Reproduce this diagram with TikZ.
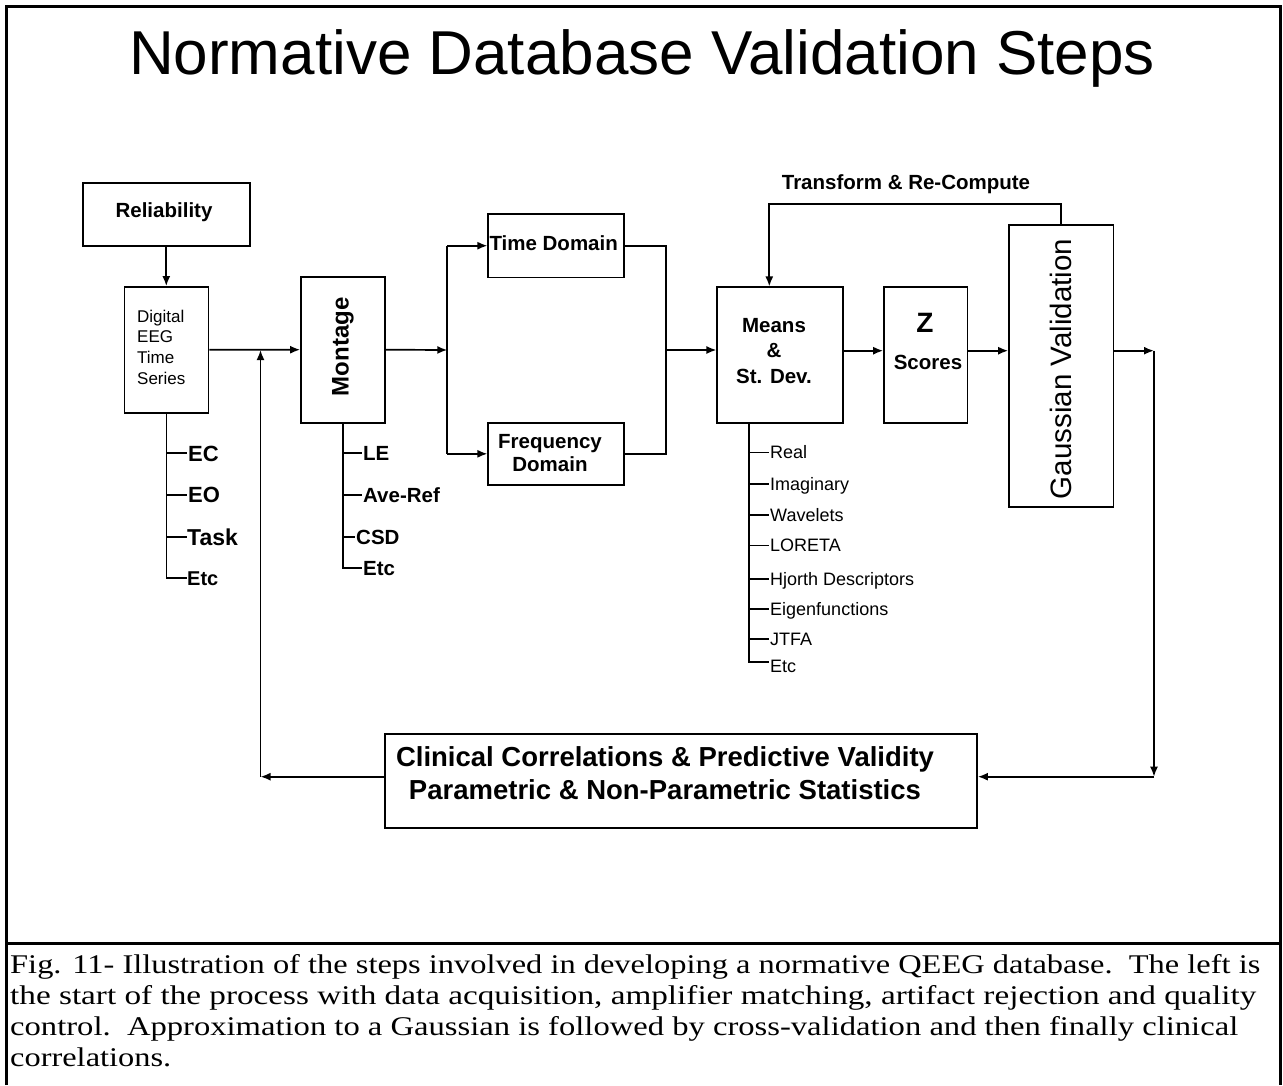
\documentclass[tikz,border=0pt]{standalone}
\usepackage{fontspec}
\setmainfont{Liberation Sans}
\newfontfamily\capfont[FakeStretch=1.2]{Liberation Serif}
\usetikzlibrary{arrows.meta}

\begin{document}
\begin{tikzpicture}[x=1pt,y=-1pt,
  box/.style={draw, line width=1.7pt, inner sep=0pt},
  wire/.style={line width=1.7pt},
  flow/.style={line width=1.7pt, -{Latex[length=10pt,width=8pt]}},
  bold/.style={inner sep=0pt, font=\bfseries\fontsize{20.5}{24}\selectfont},
  plain/.style={inner sep=0pt, font=\fontsize{17}{20.7}\selectfont},
  tickA/.style={anchor=west, inner ysep=0pt, inner xsep=1pt, text height=15.8pt, text depth=0pt,
                font=\bfseries\fontsize{22}{26}\selectfont},
  tickB/.style={anchor=west, inner ysep=0pt, inner xsep=1pt, text height=14.7pt, text depth=0pt,
                font=\bfseries\fontsize{20.5}{24}\selectfont},
  tickC/.style={anchor=west, inner ysep=0pt, inner xsep=1pt, text height=12.9pt, text depth=0pt,
                font=\fontsize{18}{21}\selectfont},
  caption/.style={anchor=base west, inner sep=0pt, font=\capfont\fontsize{27}{31}\selectfont}
]
\useasboundingbox (0,0) rectangle (1283,1085);

% page frame and caption separator
\draw[line width=3pt] (6,1085) -- (6,6) -- (1280,6) -- (1280,1085);
\draw[line width=3pt] (6,943) -- (1280,943);

% title
\node[anchor=base, inner sep=0pt, font=\fontsize{62}{72}\selectfont] (title) at (642,74)
  {Normative Database Validation Steps};

% boxes
\node[box, minimum width=167.3pt, minimum height=63pt] (rel) at (166.3,214.5) {};
\node[bold] (reltxt) at (164,212) {Reliability};

\node[box, minimum width=84pt, minimum height=125.7pt] (dig) at (166.4,349.8) {};
\node[plain, align=left, anchor=west] (digtxt) at (137,347) {Digital\\EEG\\Time\\Series};

\node[box, minimum width=84pt, minimum height=146pt] (mon) at (343,349.7) {};
\node[bold, font=\bfseries\fontsize{24}{28}\selectfont, rotate=90] (montxt) at (343,346.7) {Montage};

\node[box, minimum width=136pt, minimum height=63.3pt] (time) at (556.3,245.7) {};
\node[bold] (timetxt) at (553.7,243) {Time Domain};

\node[box, minimum width=136pt, minimum height=62.3pt] (freq) at (556.3,453.8) {};
\node[bold, align=center, font=\bfseries\fontsize{20.5}{23.3}\selectfont] (freqtxt) at (550,453)
  {Frequency\\Domain};

\node[box, minimum width=125.4pt, minimum height=135.4pt] (means) at (780,355) {};
\node[bold, align=center, font=\bfseries\fontsize{20.5}{25.5}\selectfont] (meanstxt) at (774,351)
  {Means\\\&\\St. Dev.};

\node[box, minimum width=83.3pt, minimum height=135.4pt] (z) at (925.7,355) {};
\node[bold, font=\bfseries\fontsize{28}{32}\selectfont] (ztxt) at (925,322.5) {Z};
\node[bold] (scorestxt) at (928,362.7) {Scores};

\node[box, minimum width=104.3pt, minimum height=281.7pt] (gauss) at (1061.2,365.8) {};
\node[inner sep=0pt, rotate=90, font=\fontsize{29.5}{34}\selectfont] (gausstxt) at (1061,369)
  {Gaussian Validation};

\node[bold] (transtxt) at (906,184) {Transform \& Re-Compute};

\node[box, minimum width=592pt, minimum height=94pt] (clin) at (681,781) {};
\node[inner sep=0pt, align=center, font=\bfseries\fontsize{27.5}{33}\selectfont] (clintxt) at (665,773.5)
  {Clinical Correlations \& Predictive Validity\\Parametric \& Non-Parametric Statistics};

% routing points
\coordinate (split) at (447.3,350);
\coordinate (merge) at (665.7,350);
\coordinate (fbL) at (260.5,350);
\coordinate (botL) at (260.5,776.7);
\coordinate (outR) at (1154,350.7);
\coordinate (botR) at (1154,776.7);
\coordinate (loopR) at (1061,204);
\coordinate (loopL) at (769.3,204);

% main flow
\draw[flow] (rel.south) -- (rel.south |- dig.north);
\draw[flow] (dig.east) -- (mon.west);
\draw[flow] (mon.east) -- (split);
\draw[wire] (split |- time.west) -- (split |- freq.west);
\draw[flow] (split |- time.west) -- (time.west);
\draw[flow] (split |- freq.west) -- (freq.west);
\draw[wire] (time.east) -| (merge) |- (freq.east);
\draw[flow] (merge) -- (means.west |- merge);
\draw[flow] (means.east |- outR) -- (z.west |- outR);
\draw[flow] (z.east |- outR) -- (gauss.west |- outR);
\draw[flow] (gauss.east |- outR) -- (outR);
\draw[flow] (outR) -- (botR);
\draw[flow] (botR) -- (clin.east |- botR);
\draw[flow] (clin.west |- botL) -- (botL);
\draw[flow] (botL) -- (fbL);
\draw[flow] (gauss.north -| loopR) -- (loopR) -- (loopL) -- (means.north -| loopL);

% recording conditions
\node[tickA] (ec) at (187,453.3) {EC};
\node[tickA] (eo) at (187,495) {EO};
\node[tickA, inner xsep=7pt, font=\bfseries\fontsize{23}{27}\selectfont] (task) at (180,537.3) {Task};
\node[tickA, inner xsep=11pt, text height=14.3pt, font=\bfseries\fontsize{20}{24}\selectfont] (etcA) at (176,578.3) {Etc};
\draw[wire] (dig.south) -- (dig.south |- etcA.west) -- ++(20.5,0);
\draw[wire] (dig.south |- ec.west) -- (ec.west);
\draw[wire] (dig.south |- eo.west) -- (eo.west);
\draw[wire] (dig.south |- task.west) -- ++(20.5,0);

% montage references
\node[tickB] (le) at (362,453) {LE};
\node[tickB] (averef) at (362,495) {Ave-Ref};
\node[tickB] (csd) at (355,536.7) {CSD};
\node[tickB] (etcB) at (362,568) {Etc};
\draw[wire] (mon.south) -- (mon.south |- etcB.west) -- (etcB.west);
\draw[wire] (mon.south |- le.west) -- (le.west);
\draw[wire] (mon.south |- averef.west) -- (averef.west);
\draw[wire] (mon.south |- csd.west) -- (csd.west);

% measures
\coordinate (mx) at (749,422.7);
\node[tickC] (real) at (769,452.5) {Real};
\node[tickC] (imag) at (769,484) {Imaginary};
\node[tickC] (wave) at (769,515) {Wavelets};
\node[tickC] (loreta) at (769,545.5) {LORETA};
\node[tickC] (hjorth) at (769,579) {Hjorth Descriptors};
\node[tickC] (eigen) at (769,609) {Eigenfunctions};
\node[tickC] (jtfa) at (769,639) {JTFA};
\node[tickC] (etcC) at (769,666) {Etc};
\draw[wire] (mx) -- (mx |- 0,661.7) -- (769,661.7);
\foreach \n in {real,imag,wave,loreta,hjorth,eigen,jtfa}
  \draw[wire] (mx |- \n.west) -- (\n.west);

% caption
\node[caption] (cap1) at (10,973)
  {\resizebox{1250pt}{\height}{Fig. 11- Illustration of the steps involved in developing a normative QEEG database.\ \ The left is}};
\node[caption] (cap2) at (10,1004)
  {\resizebox{1246pt}{\height}{the start of the process with data acquisition, amplifier matching, artifact rejection and quality}};
\node[caption] (cap3) at (10,1035)
  {\resizebox{1228pt}{\height}{control.\ \ Approximation to a Gaussian is followed by cross-validation and then finally clinical}};
\node[caption] (cap4) at (10,1066) {correlations.};
\end{tikzpicture}
\end{document}
